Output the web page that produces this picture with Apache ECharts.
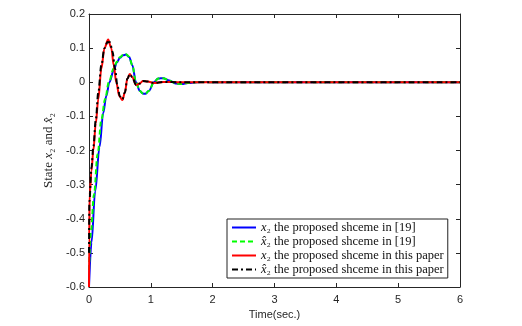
<!DOCTYPE html>
<html>
<head>
<meta charset="utf-8">
<script src="https://cdn.jsdelivr.net/npm/echarts@6/dist/echarts.min.js"></script>
<style>
  html, body { margin: 0; padding: 0; background: #fff; }
  #chart { width: 522px; height: 326px; }
</style>
</head>
<body>
<div id="chart"></div>
<script>
// x2 the proposed shceme in [19]  (blue)
var blueT = [0, 0.04, 0.1, 0.17, 0.23, 0.28, 0.33, 0.4, 0.45, 0.5, 0.55, 0.6, 0.65, 0.7, 0.76, 0.82, 0.87, 0.91, 0.97, 1.05, 1.12, 1.2, 1.3, 1.4, 1.5, 1.6, 1.8, 2.0, 6];
var blueV = [-0.6, -0.47, -0.32, -0.19, -0.09, -0.04, 0.0, 0.035, 0.058, 0.072, 0.079, 0.081, 0.074, 0.05, 0.0, -0.025, -0.033, -0.034, -0.025, 0.0, 0.011, 0.012, 0.005, -0.004, -0.005, -0.002, 0.001, 0, 0];
// x^2 the proposed shceme in [19]  (green)
var greenT = [0, 0.03, 0.08, 0.14, 0.2, 0.26, 0.32, 0.4, 0.45, 0.5, 0.55, 0.6, 0.65, 0.7, 0.76, 0.82, 0.87, 0.91, 0.97, 1.05, 1.12, 1.2, 1.3, 1.4, 1.5, 1.6, 1.8, 2.0, 6];
var greenV = [-0.55, -0.44, -0.33, -0.21, -0.11, -0.05, 0.0, 0.04, 0.06, 0.073, 0.08, 0.082, 0.075, 0.05, 0.0, -0.025, -0.033, -0.034, -0.025, 0.0, 0.011, 0.012, 0.005, -0.004, -0.005, -0.002, 0.001, 0, 0];
// x2 the proposed shceme in this paper  (red)
var redT = [0, 0.004, 0.01, 0.04, 0.07, 0.11, 0.15, 0.2, 0.25, 0.31, 0.36, 0.4, 0.44, 0.49, 0.54, 0.58, 0.62, 0.66, 0.7, 0.76, 0.82, 0.87, 0.95, 1.05, 1.2, 1.5, 6];
var redV = [-0.6, -0.45, -0.33, -0.26, -0.2, -0.12, -0.05, 0.04, 0.1, 0.125, 0.1, 0.05, 0.0, -0.04, -0.052, -0.03, 0.01, 0.024, 0.015, -0.008, -0.004, 0.004, 0.002, -0.002, 0.001, 0, 0];
// x^2 the proposed shceme in this paper  (black)
var blackT = [0, 0.006, 0.04, 0.07, 0.11, 0.15, 0.2, 0.25, 0.3, 0.34, 0.38, 0.42, 0.46, 0.5, 0.54, 0.58, 0.62, 0.66, 0.7, 0.76, 0.82, 0.87, 0.95, 1.05, 1.2, 1.5, 6];
var blackV = [-0.5, -0.35, -0.25, -0.19, -0.11, -0.03, 0.05, 0.1, 0.118, 0.117, 0.09, 0.04, -0.01, -0.042, -0.05, -0.03, 0.01, 0.024, 0.015, -0.008, -0.004, 0.004, 0.002, -0.002, 0.001, 0, 0];

var names = [
	'x₂ the proposed shceme in [19]',
	'x̂₂ the proposed shceme in [19]',
	'x₂ the proposed shceme in this paper',
	'x̂₂ the proposed shceme in this paper'
];

function pairs(t, v) {
	return t.map(function(x, i) { return [x, v[i]]; });
}

var axisColor = '#262626';
var sans = 'Liberation Sans, Arial, sans-serif';
var serif = 'Liberation Serif, Times New Roman, serif';

function lineSeries(name, t, v, color, type) {
	return {
		name: name,
		type: 'line',
		data: pairs(t, v),
		symbol: 'none',
		smooth: 0.35,
		smoothMonotone: 'x',
		lineStyle: { color: color, width: 2, type: type },
		itemStyle: { color: color },
		z: 3
	};
}

function boxAxis(extra) {
	var a = {
		type: 'value',
		axisLine: { onZero: false, lineStyle: { color: axisColor, width: 1 } },
		axisTick: { inside: true, length: 4, lineStyle: { color: axisColor } },
		axisLabel: { show: false },
		splitLine: { show: false }
	};
	for (var k in extra) a[k] = extra[k];
	return a;
}

var chart = echarts.init(document.getElementById('chart'), null, { renderer: 'canvas' });
chart.setOption({
	animation: false,
	backgroundColor: '#fff',
	grid: { left: 89, right: 62, top: 14, bottom: 39 },
	xAxis: [
		boxAxis({
			min: 0, max: 6, interval: 1, position: 'bottom',
			name: 'Time(sec.)', nameLocation: 'middle', nameGap: 22,
			nameTextStyle: { fontFamily: sans, fontSize: 11, color: axisColor },
			axisLabel: { margin: 7, fontFamily: sans, fontSize: 11, color: axisColor }
		}),
		boxAxis({ min: 0, max: 6, interval: 1, position: 'top' })
	],
	yAxis: [
		boxAxis({
			min: -0.6, max: 0.2, interval: 0.1, position: 'left',
			name: '{t|State }{i|x}{s|₂}{t| and }{i|x̂}{s|₂}', nameLocation: 'middle', nameGap: 27,
			nameTextStyle: {
				color: axisColor,
				rich: {
					t: { fontFamily: serif, fontSize: 13, color: axisColor },
					i: { fontFamily: serif, fontSize: 13, fontStyle: 'italic', color: axisColor },
					s: { fontFamily: serif, fontSize: 13, color: axisColor }
				}
			},
			axisLabel: {
				margin: 4, fontFamily: sans, fontSize: 11, color: axisColor,
				formatter: function(v) { return String(Number(v.toFixed(1))); }
			}
		}),
		boxAxis({ min: -0.6, max: 0.2, interval: 0.1, position: 'right' })
	],
	legend: {
		orient: 'vertical',
		left: 227, top: 219,
		itemWidth: 24, itemHeight: 10, itemGap: 1,
		padding: [2, 4, 2, 4],
		backgroundColor: '#fff',
		borderColor: '#222', borderWidth: 1,
		itemStyle: { opacity: 0 },
		data: names,
		formatter: function(name) {
			var hat = name.indexOf('x̂') === 0;
			var rest = name.slice(hat ? 3 : 2);
			return '{i|' + (hat ? 'x̂' : 'x') + '}{s|₂}{t|' + rest + '}';
		},
		textStyle: {
			color: '#111',
			rich: {
				t: { fontFamily: serif, fontSize: 12.5, color: '#111' },
				i: { fontFamily: serif, fontSize: 12.5, fontStyle: 'italic', color: '#111' },
				s: { fontFamily: serif, fontSize: 12.5, color: '#111' }
			}
		}
	},
	series: [
		lineSeries(names[0], blueT, blueV, '#0000ff', 'solid'),
		lineSeries(names[1], greenT, greenV, '#00ff00', [5, 3]),
		lineSeries(names[2], redT, redV, '#ff0000', 'solid'),
		lineSeries(names[3], blackT, blackV, '#000000', [6, 3, 2, 3])
	]
});
</script>
</body>
</html>
